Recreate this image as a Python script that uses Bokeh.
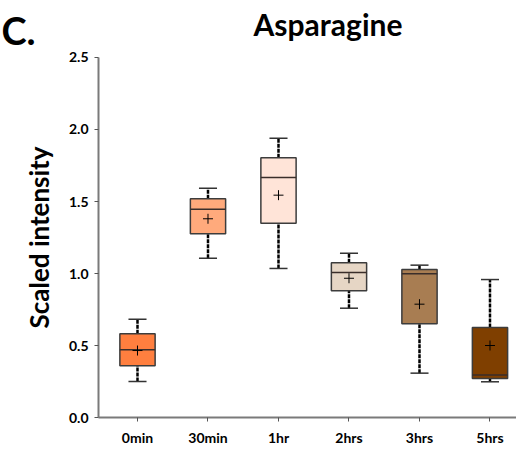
from bokeh.plotting import figure
from bokeh.models import FixedTicker, Label, Range1d
from bokeh.embed import file_html
from bokeh.resources import INLINE

categories = ["0min", "30min", "1hr", "2hrs", "3hrs", "5hrs"]
whisker_low = [0.25, 1.106, 1.035, 0.759, 0.308, 0.248]
q1 = [0.359, 1.276, 1.349, 0.880, 0.651, 0.271]
median = [0.470, 1.447, 1.667, 1.007, 0.998, 0.296]
q3 = [0.581, 1.519, 1.803, 1.074, 1.028, 0.625]
whisker_high = [0.683, 1.592, 1.940, 1.141, 1.058, 0.958]
mean = [0.465, 1.380, 1.544, 0.967, 0.787, 0.500]
colors = ["#FF7F3F", "#FFAA7C", "#FFE4D8", "#E6D6C5", "#A87D52", "#7F3F00"]
y_ticks = [0.0, 0.5, 1.0, 1.5, 2.0, 2.5]

xs = list(range(len(categories)))

# frame covers the whole canvas; axes are drawn at fixed locations
X_AXIS_LEFT = -0.553
X_END = 5.376
p = figure(width=516, height=454, output_backend="svg", toolbar_location=None,
           x_range=Range1d(-1.9433, X_END), y_range=Range1d(-0.2569, 2.8958),
           min_border_left=0, min_border_right=0, min_border_top=0, min_border_bottom=0)
p.outline_line_color = None
p.grid.visible = False

# whiskers
p.segment(x0=xs, y0=whisker_low, x1=xs, y1=q1, line_color="black", line_width=2.5, line_dash="4 1")
p.segment(x0=xs, y0=q3, x1=xs, y1=whisker_high, line_color="black", line_width=2.5, line_dash="4 1")
cap = 0.128
p.segment(x0=[x - cap for x in xs], y0=whisker_low, x1=[x + cap for x in xs], y1=whisker_low,
          line_color="#333333", line_width=1.5)
p.segment(x0=[x - cap for x in xs], y0=whisker_high, x1=[x + cap for x in xs], y1=whisker_high,
          line_color="#333333", line_width=1.5)

# boxes
p.vbar(x=xs, bottom=q1, top=q3, width=0.5, fill_color=colors, line_color="#3c3c3c", line_width=1.5)
p.segment(x0=[x - 0.25 for x in xs], y0=median, x1=[x + 0.25 for x in xs], y1=median,
          line_color="#3a2e2a", line_width=1.5)
p.scatter(x=xs, y=mean, marker="cross", size=10, line_color="black", line_width=1)

# axes
p.xaxis.fixed_location = 0
p.xaxis.bounds = (X_AXIS_LEFT, X_END)
p.yaxis.fixed_location = X_AXIS_LEFT
p.yaxis.bounds = (0, 2.5)
p.xaxis.ticker = FixedTicker(ticks=xs)
p.xaxis.major_label_overrides = {i: c for i, c in enumerate(categories)}
p.yaxis.ticker = FixedTicker(ticks=y_ticks)
p.yaxis.major_label_overrides = {t: f"{t:.1f}" for t in y_ticks}
for ax in (p.xaxis, p.yaxis):
    ax.axis_line_color = "#7a7a7a"
    ax.axis_line_width = 2
    ax.major_tick_line_color = "#555555"
    ax.major_tick_out = 4
    ax.major_tick_in = 0
    ax.minor_tick_line_color = None
    ax.major_label_text_font = "Lato"
    ax.major_label_text_font_style = "bold"
    ax.major_label_text_color = "black"
    ax.major_label_text_font_size = "14px"
p.xaxis.major_label_standoff = 7
p.yaxis.major_label_standoff = 6
p.yaxis.axis_label = "Scaled intensity"
p.yaxis.axis_label_text_font = "Lato"
p.yaxis.axis_label_text_font_style = "bold"
p.yaxis.axis_label_text_font_size = "26px"
p.yaxis.axis_label_text_color = "black"
p.yaxis.axis_label_standoff = 11

p.add_layout(Label(x=2.702, y=2.736, text="Asparagine", text_align="center",
                   text_baseline="alphabetic", text_font="Lato", text_font_style="bold",
                   text_font_size="30px", text_color="black"))
p.add_layout(Label(x=-1.93, y=2.688, text="C.", text_align="left",
                   text_baseline="alphabetic", text_font="Lato", text_font_style="bold",
                   text_font_size="38px", text_color="black"))

open("out.html", "w").write(file_html(p, INLINE))
